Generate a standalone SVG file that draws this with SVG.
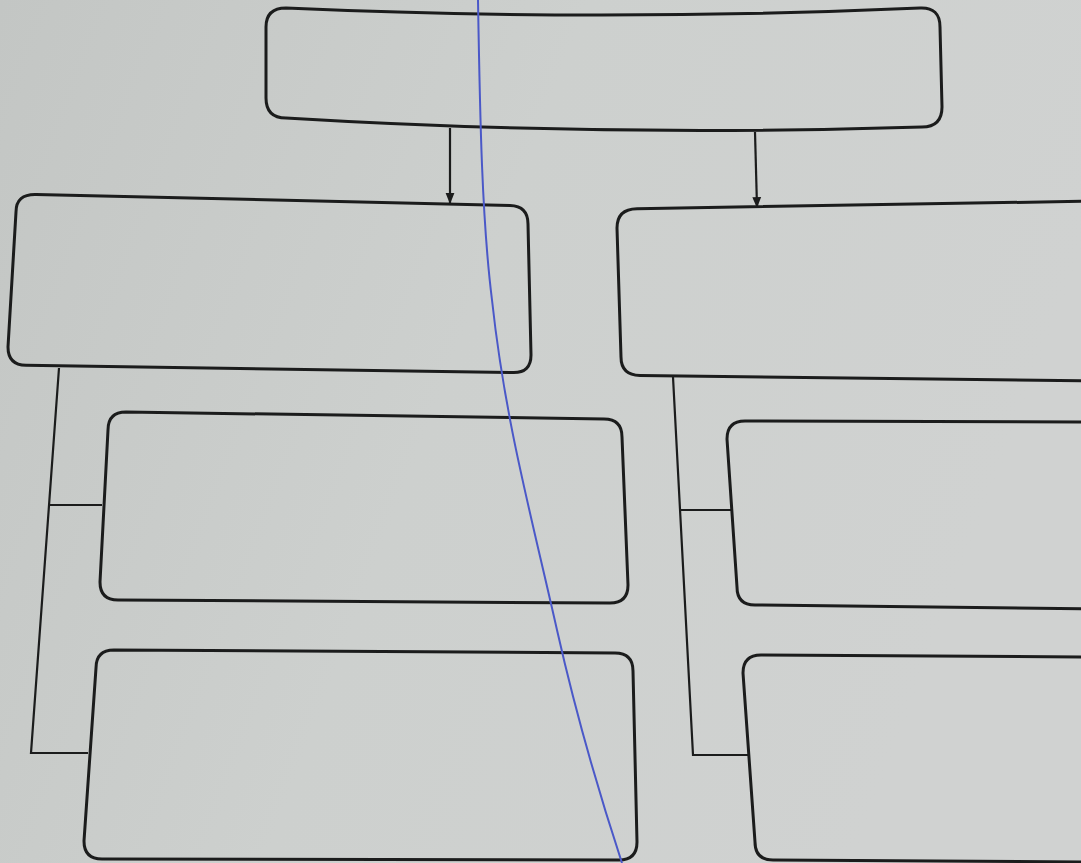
<svg xmlns="http://www.w3.org/2000/svg" width="1081" height="863" viewBox="0 0 1081 863">
<style>
.box{fill:none;stroke:#1b1c1c;stroke-width:3;stroke-linejoin:round}
.con{fill:none;stroke:#1b1c1c;stroke-width:2.2}
.pen{fill:none;stroke:#4a58c8;stroke-width:2}
</style>
<defs>
<linearGradient id="bg" x1="0" y1="0" x2="1" y2="0.3">
<stop offset="0" stop-color="#c3c6c4"/>
<stop offset="0.5" stop-color="#cdd0ce"/>
<stop offset="1" stop-color="#d0d2d1"/>
</linearGradient>
<marker id="arr" viewBox="0 0 10 10" refX="9" refY="5" markerWidth="5" markerHeight="5" orient="auto">
<path d="M0,1 L10,5 L0,9 Z" fill="#1b1c1c"/>
</marker>
</defs>
<rect width="1081" height="863" fill="url(#bg)"/>
<g id="connectors">
<path class="con" d="M450,128 L450,203" marker-end="url(#arr)"/>
<path class="con" d="M755,132 L757,207" marker-end="url(#arr)"/>
<path class="con" d="M59,368 L31,753 L88,753"/>
<path class="con" d="M49,505 L102,505"/>
<path class="con" d="M673,377 L693,755 L748,755"/>
<path class="con" d="M680,510 L731,510"/>
</g>
<g id="top"><path class="box" d="M286,8 Q600,22 920,8 Q940,7 940,27 L942,107 Q942,127 922,127 Q600,137 286,118 Q266,118 266,98 L266,27 Q266,8 286,8 Z"/></g>
<g id="left1"><path class="box" d="M36,194.5 L510,205.5 Q528,206 528,224 L531,355 Q531,373 513,372.6 L26,365.3 Q8,365 8,347 L16,212 Q16,194 36,194.5 Z"/></g>
<g id="right1"><path class="box" d="M637,208.7 L1100,201 L1100,381 L640,375.5 Q621,375 621,357 L617,228 Q617,209 637,208.7 Z"/></g>
<g id="left2"><path class="box" d="M126,412 L604,419 Q622,419 622,437 L628,585 Q628,603 610,603 L118,600 Q100,600 100,582 L108,430 Q108,412 126,412 Z"/></g>
<g id="right2"><path class="box" d="M745,421 L1100,422 L1100,609 L755,605 Q737,605 737,587 L727,439 Q727,421 745,421 Z"/></g>
<g id="left3"><path class="box" d="M114,650 L615,653 Q633,653 633,671 L637,842 Q637,860 619,860 L102,859 Q84,859 84,841 L96,668 Q96,650 114,650 Z"/></g>
<g id="right3"><path class="box" d="M761,655 L1100,657 L1100,862 L773,860 Q755,860 755,842 L743,673 Q743,655 761,655 Z"/></g>
<path class="pen" d="M478,0 C480,120 482,220 492,300 C505,420 530,510 557,630 C575,710 598,790 622,863"/>
</svg>
